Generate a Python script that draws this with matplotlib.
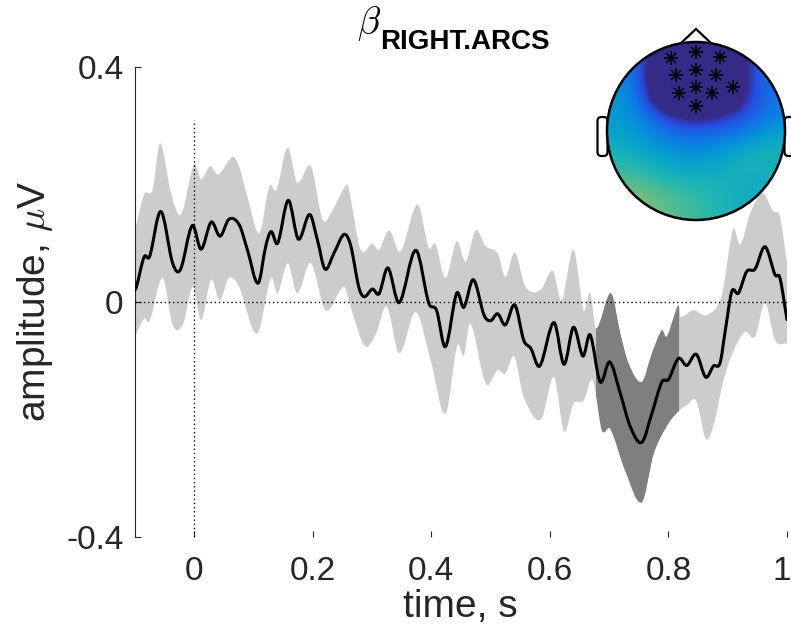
import numpy as np
import matplotlib
matplotlib.use('Agg')
import matplotlib.pyplot as plt
import matplotlib.transforms as mtransforms
from matplotlib.colors import LinearSegmentedColormap
from matplotlib.patches import Circle, Polygon, FancyBboxPatch, PathPatch
from matplotlib.path import Path

plt.rcParams['font.family'] = ['Liberation Sans', 'DejaVu Sans']
plt.rcParams['mathtext.fontset'] = 'cm'

# mean ERP trace (time in s, amplitude in uV)
line_t = [-0.100, -0.097, -0.084, -0.075, -0.056, -0.036, -0.023, -0.003, 0.012, 0.029,
          0.044, 0.059, 0.076, 0.090, 0.108, 0.121, 0.130, 0.141, 0.159, 0.176,
          0.195, 0.208, 0.221, 0.236, 0.253, 0.264, 0.278, 0.287, 0.301, 0.312,
          0.327, 0.346, 0.374, 0.396, 0.409, 0.424, 0.443, 0.455, 0.471, 0.489,
          0.500, 0.512, 0.525, 0.541, 0.556, 0.568, 0.583, 0.607, 0.624, 0.640,
          0.656, 0.668, 0.685, 0.701, 0.719, 0.736, 0.755, 0.772, 0.789, 0.800,
          0.817, 0.831, 0.847, 0.863, 0.876, 0.887, 0.896, 0.907, 0.918, 0.932,
          0.946, 0.963, 0.980, 0.988, 1.000]
line_v = [0.020, 0.026, 0.077, 0.077, 0.154, 0.066, 0.055, 0.130, 0.090, 0.136,
          0.112, 0.141, 0.132, 0.089, 0.032, 0.095, 0.120, 0.100, 0.173, 0.107,
          0.149, 0.106, 0.056, 0.083, 0.115, 0.097, 0.025, 0.009, 0.022, 0.014,
          0.058, -0.001, 0.088, -0.002, -0.014, -0.076, 0.015, -0.009, 0.038, -0.022,
          -0.032, -0.020, -0.039, -0.005, -0.065, -0.079, -0.109, -0.035, -0.106, -0.043,
          -0.092, -0.056, -0.136, -0.102, -0.156, -0.213, -0.239, -0.190, -0.136, -0.132,
          -0.096, -0.108, -0.089, -0.128, -0.109, -0.104, -0.048, 0.018, 0.015, 0.052,
          0.056, 0.094, 0.046, 0.041, -0.030]

# upper and lower edge of the confidence band
up_t = [-0.100, -0.084, -0.070, -0.057, -0.039, -0.022, 0.000, 0.012, 0.027, 0.041,
        0.065, 0.076, 0.090, 0.110, 0.127, 0.139, 0.158, 0.174, 0.197, 0.217,
        0.234, 0.258, 0.264, 0.281, 0.301, 0.312, 0.329, 0.348, 0.377, 0.396,
        0.407, 0.424, 0.443, 0.458, 0.475, 0.492, 0.512, 0.525, 0.541, 0.559,
        0.584, 0.605, 0.620, 0.640, 0.657, 0.668, 0.678, 0.703, 0.719, 0.733,
        0.755, 0.772, 0.789, 0.797, 0.815, 0.818, 0.820, 0.842, 0.865, 0.890,
        0.909, 0.921, 0.939, 0.959, 0.977, 0.988, 1.000]
up_v = [0.120, 0.183, 0.191, 0.270, 0.186, 0.149, 0.234, 0.209, 0.231, 0.217,
        0.247, 0.231, 0.180, 0.117, 0.197, 0.191, 0.263, 0.203, 0.231, 0.140,
        0.157, 0.200, 0.177, 0.089, 0.099, 0.089, 0.122, 0.086, 0.166, 0.092,
        0.099, 0.041, 0.103, 0.069, 0.122, 0.095, 0.083, 0.043, 0.084, 0.026,
        0.020, 0.053, 0.003, 0.089, -0.014, 0.016, -0.045, 0.015, -0.054, -0.105,
        -0.136, -0.088, -0.048, -0.059, -0.008, -0.008, -0.025, -0.014, -0.022, 0.012,
        0.124, 0.097, 0.154, 0.185, 0.154, 0.146, 0.066]
lo_t = [-0.100, -0.084, -0.075, -0.053, -0.036, -0.019, -0.002, 0.012, 0.029, 0.043,
        0.059, 0.076, 0.106, 0.130, 0.141, 0.158, 0.174, 0.197, 0.222, 0.253,
        0.264, 0.288, 0.306, 0.325, 0.346, 0.374, 0.399, 0.424, 0.444, 0.455,
        0.466, 0.492, 0.512, 0.525, 0.540, 0.556, 0.585, 0.607, 0.624, 0.640,
        0.657, 0.671, 0.678, 0.688, 0.702, 0.727, 0.755, 0.775, 0.798, 0.818,
        0.831, 0.847, 0.863, 0.876, 0.893, 0.909, 0.929, 0.946, 0.963, 0.980,
        1.000]
lo_v = [-0.060, -0.028, -0.033, 0.041, -0.039, -0.039, 0.026, -0.031, 0.038, 0.003,
        0.041, 0.026, -0.054, 0.041, 0.015, 0.066, 0.015, 0.066, -0.014, 0.026,
        -0.008, -0.075, -0.056, -0.008, -0.087, -0.017, -0.099, -0.190, -0.074, -0.091,
        -0.036, -0.139, -0.116, -0.122, -0.093, -0.162, -0.200, -0.128, -0.220, -0.173,
        -0.168, -0.131, -0.160, -0.219, -0.216, -0.287, -0.341, -0.259, -0.210, -0.185,
        -0.176, -0.168, -0.233, -0.210, -0.133, -0.085, -0.051, -0.059, -0.002, -0.065,
        -0.071]

# significant time window
sig_start, sig_end = 0.678, 0.818

# topography values on an 11x11 grid (top row = front of head),
# values below 0 are saturated at the lowest colour
topo_vals = [
    [0.25, 0.20, 0.06, -0.25, -0.30, -0.30, -0.30, -0.25, 0.02, 0.18, 0.22],
    [0.27, 0.22, 0.02, -0.30, -0.30, -0.30, -0.30, -0.30, -0.02, 0.16, 0.20],
    [0.29, 0.24, 0.02, -0.30, -0.30, -0.30, -0.30, -0.30, -0.02, 0.15, 0.20],
    [0.31, 0.27, 0.08, -0.20, -0.30, -0.30, -0.30, -0.25, 0.02, 0.16, 0.22],
    [0.34, 0.30, 0.20, 0.08, -0.02, -0.08, -0.02, 0.05, 0.12, 0.19, 0.25],
    [0.38, 0.34, 0.28, 0.21, 0.17, 0.16, 0.17, 0.19, 0.22, 0.28, 0.35],
    [0.43, 0.40, 0.36, 0.31, 0.28, 0.27, 0.28, 0.32, 0.38, 0.44, 0.44],
    [0.50, 0.48, 0.45, 0.40, 0.37, 0.37, 0.39, 0.42, 0.46, 0.46, 0.44],
    [0.56, 0.56, 0.54, 0.50, 0.47, 0.46, 0.45, 0.45, 0.44, 0.43, 0.42],
    [0.60, 0.62, 0.60, 0.56, 0.54, 0.52, 0.48, 0.45, 0.43, 0.42, 0.42],
    [0.60, 0.62, 0.62, 0.60, 0.56, 0.53, 0.50, 0.46, 0.43, 0.42, 0.42],
]
# highlighted electrodes (head coords, head radius 89)
elec_x = [-25, 0, 24, -20, 0, 20, -17, 0, 16, 37, 0]
elec_y = [73, 79, 74, 56, 61, 56, 38, 44, 38, 44, 25]

parula = LinearSegmentedColormap.from_list('parula_like', [
    (0.00, (0.208, 0.166, 0.529)),
    (0.10, (0.150, 0.300, 0.880)),
    (0.20, (0.070, 0.440, 0.900)),
    (0.30, (0.020, 0.570, 0.850)),
    (0.40, (0.040, 0.660, 0.780)),
    (0.50, (0.150, 0.720, 0.680)),
    (0.60, (0.420, 0.750, 0.500)),
    (0.70, (0.700, 0.740, 0.320)),
    (0.80, (0.930, 0.730, 0.240)),
    (0.90, (0.970, 0.850, 0.160)),
    (1.00, (0.976, 0.983, 0.054)),
])


def smooth_segments(t, v, i0, i1):
    # cubic hermite pieces (bezier form) between samples i0..i1
    t = np.asarray(t, float)
    v = np.asarray(v, float)
    n = len(t)
    m = np.empty(n)
    m[1:-1] = (v[2:] - v[:-2]) / (t[2:] - t[:-2])
    m[0] = (v[1] - v[0]) / (t[1] - t[0])
    m[-1] = (v[-1] - v[-2]) / (t[-1] - t[-2])
    segs = []
    for i in range(i0, i1):
        h = t[i + 1] - t[i]
        segs.append([(t[i], v[i]),
                     (t[i] + h / 3, v[i] + m[i] * h / 3),
                     (t[i + 1] - h / 3, v[i + 1] - m[i + 1] * h / 3),
                     (t[i + 1], v[i + 1])])
    return segs


def band_path(i0u, i1u, i0l, i1l):
    su = smooth_segments(up_t, up_v, i0u, i1u)
    sl = smooth_segments(lo_t, lo_v, i0l, i1l)
    verts = [su[0][0]]
    codes = [Path.MOVETO]
    for s in su:
        verts += s[1:]
        codes += [Path.CURVE4] * 3
    verts.append(sl[-1][3])
    codes.append(Path.LINETO)
    for s in reversed(sl):
        verts += [s[2], s[1], s[0]]
        codes += [Path.CURVE4] * 3
    verts.append(verts[0])
    codes.append(Path.CLOSEPOLY)
    return Path(verts, codes)


fig = plt.figure(figsize=(7.91, 6.40), dpi=100)
ax = fig.add_axes([134.7 / 791, 103 / 640, 652.3 / 791, 470 / 640])

# light band
ax.add_patch(PathPatch(band_path(0, len(up_t) - 1, 0, len(lo_t) - 1),
                       facecolor='#cccccc', lw=0, zorder=1))
# dark band in the significant window
iu0 = int(np.argmin(np.abs(np.array(up_t) - sig_start)))
iu1 = int(np.argmin(np.abs(np.array(up_t) - sig_end)))
il0 = int(np.argmin(np.abs(np.array(lo_t) - sig_start)))
il1 = int(np.argmin(np.abs(np.array(lo_t) - sig_end)))
ax.add_patch(PathPatch(band_path(iu0, iu1, il0, il1), facecolor='#7f7f7f', lw=0, zorder=2))

ax.plot([-0.1, 1], [0, 0], color='black', ls=(0, (1, 2)), lw=1, zorder=3)
ax.plot([0, 0], [-0.4, 0.31], color='black', ls=(0, (1, 2)), lw=1, zorder=3)

# mean trace
lsegs = smooth_segments(line_t, line_v, 0, len(line_t) - 1)
lverts = [lsegs[0][0]]
lcodes = [Path.MOVETO]
for s in lsegs:
    lverts += s[1:]
    lcodes += [Path.CURVE4] * 3
ax.add_patch(PathPatch(Path(lverts, lcodes), facecolor='none', edgecolor='black',
                       lw=2.2, zorder=4, joinstyle='round', capstyle='round'))

ax.set_xlim(-0.1, 1)
ax.set_ylim(-0.4, 0.4)
ax.set_xticks([0, 0.2, 0.4, 0.6, 0.8, 1])
ax.set_xticklabels(['0', '0.2', '0.4', '0.6', '0.8', '1'])
ax.set_yticks([-0.4, 0, 0.4])
ax.set_yticklabels(['-0.4', '0', '0.4'])
for s in ['top', 'right', 'bottom']:
    ax.spines[s].set_visible(False)
ax.spines['left'].set_color('#262626')
ax.spines['left'].set_linewidth(0.8)
ax.tick_params(axis='both', direction='in', length=4, width=0.8, colors='#262626',
               labelsize=24)
ax.tick_params(axis='x', pad=14)
ax.tick_params(axis='y', pad=8)
# keep the last x label inside the figure
last = ax.get_xticklabels()[-1]
last.set_transform(last.get_transform() + mtransforms.ScaledTranslation(-5 / 100, 0, fig.dpi_scale_trans))

fig.text(460 / 791, 1 - 607 / 640, 'time, s', fontsize=28, color='#262626',
         ha='center', va='center')
fig.text(35 / 791, 1 - 301 / 640, r'amplitude, $\mu$V', fontsize=28, color='#262626',
         ha='center', va='center', rotation=90)

# title
fig.text(357 / 791, 1 - 33 / 640, r'$\beta$', fontsize=27, color='black')
fig.text(380 / 791, 1 - 49 / 640, 'RIGHT.ARCS', fontsize=20, fontweight='bold', color='black')

# topography inset
R = 89
tax = fig.add_axes([596 / 791, 1 - 231 / 640, 200 / 791, 210 / 640])
tax.set_xlim(-100, 100)
tax.set_ylim(-100, 110)
tax.axis('off')
im = tax.imshow(np.array(topo_vals), cmap=parula, vmin=0, vmax=1,
                extent=[-R, R, -R, R], interpolation='bicubic',
                interpolation_stage='data', zorder=1)
clip = Circle((0, 0), R, transform=tax.transData)
im.set_clip_path(clip)
tax.add_patch(Polygon([[-16, 87], [0, 102], [16, 87]], closed=True, facecolor='white',
                      edgecolor='black', lw=1.6, zorder=0, clip_on=False))
for sx in [-1, 1]:
    tax.add_patch(FancyBboxPatch((sx * 93.5 - 5, -25), 10, 39,
                                 boxstyle='round,pad=0,rounding_size=4',
                                 facecolor='white', edgecolor='black', lw=1.6,
                                 zorder=0, clip_on=False))
tax.add_patch(Circle((0, 0), R, facecolor='none', edgecolor='black', lw=1.8, zorder=3))
tax.plot(elec_x, elec_y, ls='none', marker='+', ms=10, mew=1.1, color='black', zorder=4)
tax.plot(elec_x, elec_y, ls='none', marker='x', ms=7, mew=1.1, color='black', zorder=4)

fig.savefig('out.png', dpi=100)
